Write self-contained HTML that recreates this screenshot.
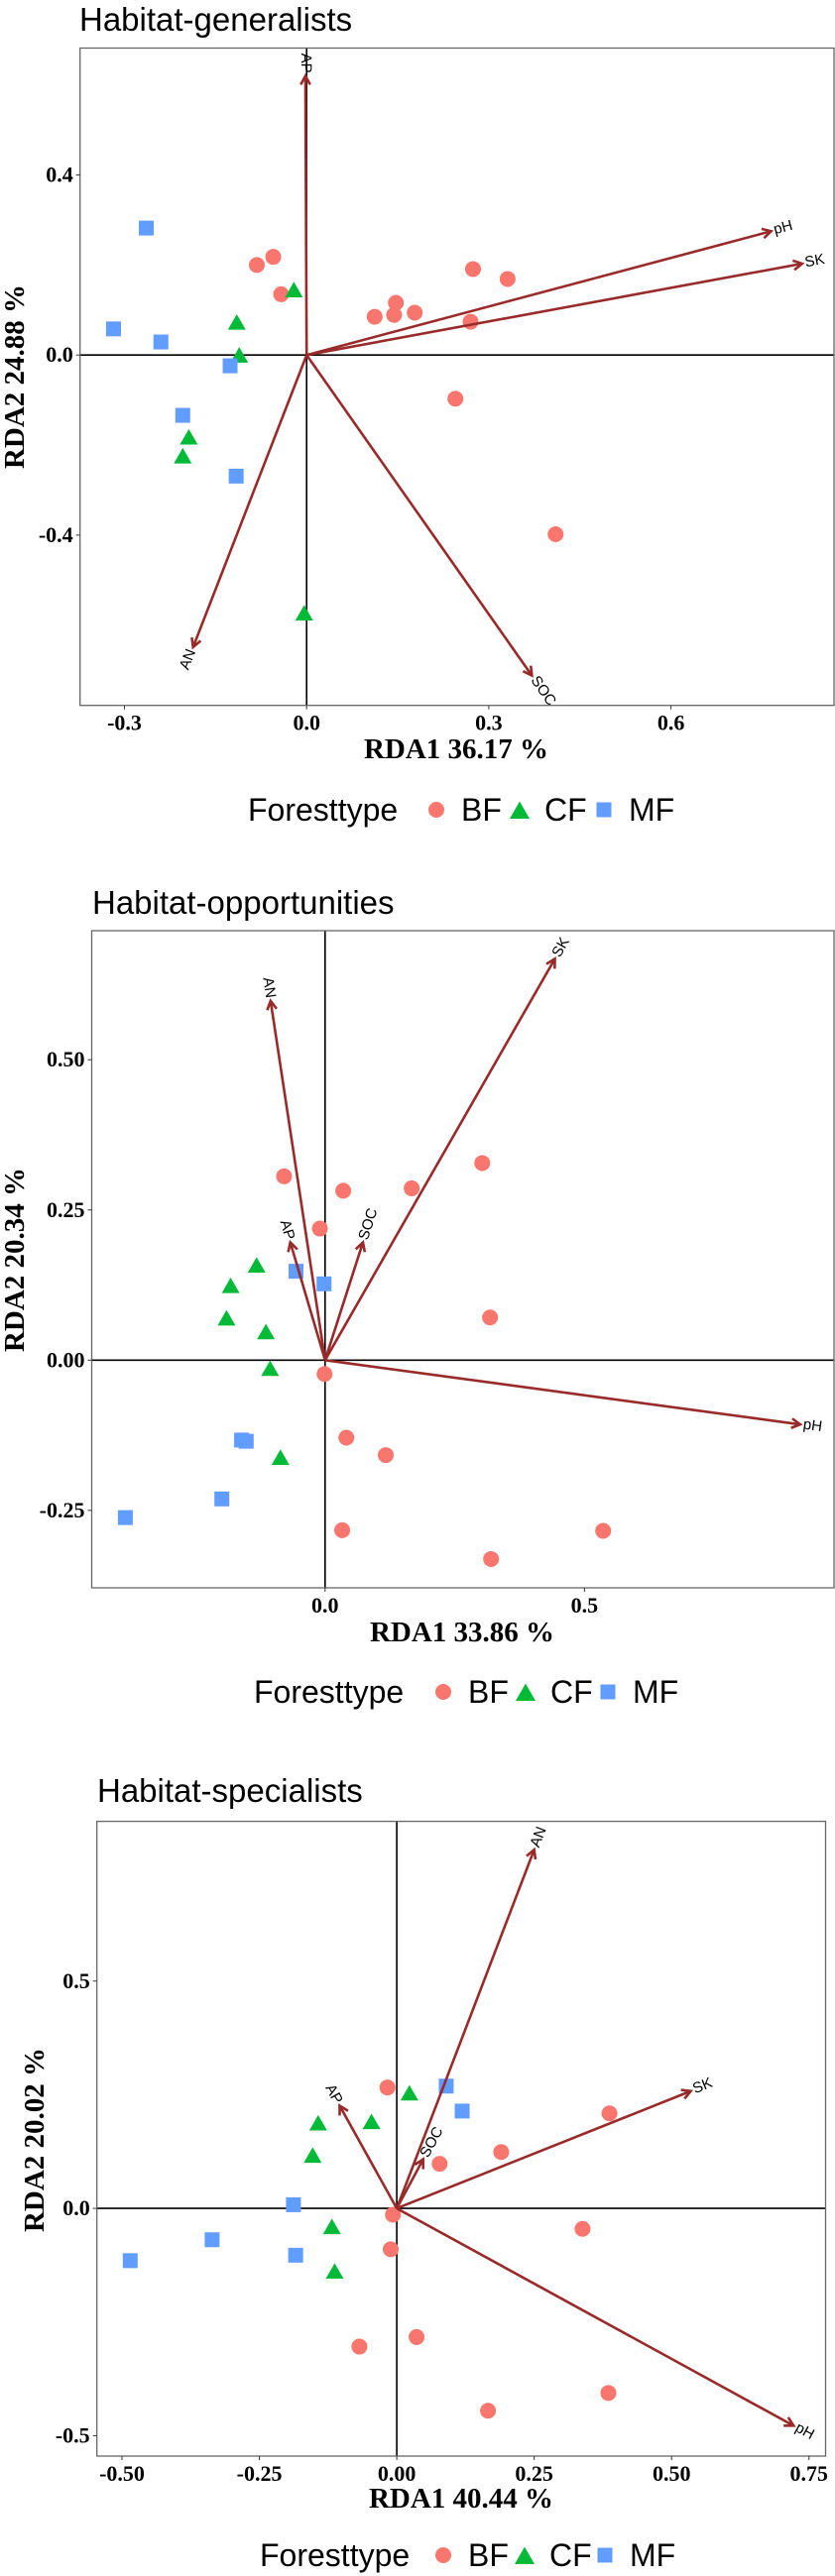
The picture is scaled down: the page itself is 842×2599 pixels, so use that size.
<!DOCTYPE html>
<html><head><meta charset="utf-8"><style>
html,body{margin:0;padding:0;background:#fff;}
svg{display:block;}
</style></head>
<body>
<svg id="fig" width="842" height="2599" viewBox="0 0 842 2599" xmlns="http://www.w3.org/2000/svg"></svg>
<script>
// ---- Panel 1: Habitat-generalists ----
const p1BFx = [-0.082,-0.055,-0.042,0.112,0.144,0.147,0.178,0.274,0.331,0.270,0.245,0.410];
const p1BFy = [0.200,0.218,0.135,0.085,0.089,0.116,0.094,0.191,0.169,0.074,-0.097,-0.398];
const p1CFx = [-0.021,-0.115,-0.111,-0.194,-0.204,-0.004];
const p1CFy = [0.142,0.070,-0.003,-0.185,-0.227,-0.576];
const p1MFx = [-0.264,-0.318,-0.240,-0.126,-0.204,-0.116];
const p1MFy = [0.282,0.058,0.029,-0.024,-0.134,-0.269];
const p1Vars = ["AP","pH","SK","AN","SOC"];
const p1VarX = [-0.002,0.765,0.816,-0.187,0.371];
const p1VarY = [0.620,0.275,0.203,-0.649,-0.712];
const p1XTicks = [-0.3,0.0,0.3,0.6];
const p1XTickLabels = ["-0.3","0.0","0.3","0.6"];
const p1YTicks = [0.4,0.0,-0.4];
const p1YTickLabels = ["0.4","0.0","-0.4"];

// ---- Panel 2: Habitat-opportunities ----
const p2BFx = [-0.079,0.035,-0.010,0.167,0.303,0.318,-0.001,0.041,0.117,0.033,0.320,0.536];
const p2BFy = [0.306,0.282,0.219,0.286,0.328,0.071,-0.023,-0.129,-0.158,-0.283,-0.331,-0.284];
const p2CFx = [-0.132,-0.182,-0.190,-0.114,-0.106,-0.086];
const p2CFy = [0.156,0.122,0.068,0.045,-0.016,-0.164];
const p2MFx = [-0.056,-0.002,-0.161,-0.152,-0.199,-0.385];
const p2MFy = [0.148,0.127,-0.133,-0.135,-0.231,-0.262];
const p2Vars = ["AN","SK","AP","SOC","pH"];
const p2VarX = [-0.105,0.443,-0.067,0.073,0.916];
const p2VarY = [0.598,0.668,0.196,0.196,-0.107];
const p2XTicks = [0.0,0.5];
const p2XTickLabels = ["0.0","0.5"];
const p2YTicks = [0.50,0.25,0.00,-0.25];
const p2YTickLabels = ["0.50","0.25","0.00","-0.25"];

// ---- Panel 3: Habitat-specialists ----
const p3BFx = [-0.017,0.190,0.078,0.387,0.338,-0.007,-0.011,-0.068,0.036,0.166,0.385];
const p3BFy = [0.266,0.124,0.098,0.209,-0.045,-0.014,-0.090,-0.304,-0.283,-0.445,-0.406];
const p3CFx = [0.023,-0.143,-0.046,-0.153,-0.118,-0.113];
const p3CFy = [0.251,0.185,0.188,0.114,-0.043,-0.141];
const p3MFx = [0.090,0.119,-0.188,-0.336,-0.184,-0.485];
const p3MFy = [0.269,0.214,0.008,-0.069,-0.103,-0.115];
const p3Vars = ["AN","AP","SOC","SK","pH"];
const p3VarX = [0.250,-0.104,0.048,0.535,0.722];
const p3VarY = [0.789,0.226,0.108,0.258,-0.478];
const p3XTicks = [-0.50,-0.25,0.00,0.25,0.50,0.75];
const p3XTickLabels = ["-0.50","-0.25","0.00","0.25","0.50","0.75"];
const p3YTicks = [0.5,0.0,-0.5];
const p3YTickLabels = ["0.5","0.0","-0.5"];

const NS = "http://www.w3.org/2000/svg";
const svg = document.getElementById('fig');
const COL = {BF:"#F8766D", CF:"#00BA38", MF:"#619CFF"};
const ARROW = "#992a2a";

function mk(tag, attrs, parent){
  const e = document.createElementNS(NS, tag);
  for (const k in attrs) e.setAttribute(k, attrs[k]);
  (parent||svg).appendChild(e);
  return e;
}
function circleMark(g, cx, cy, r, fill){
  const c = mk('circle',{cx:cx,cy:cy,r:r,fill:fill},g);
  return c;
}
function triMark(g, cx, cy, s, fill){
  const h = s*0.87;
  return mk('polygon',{points:`${cx},${cy-h*0.6} ${cx-s/2},${cy+h*0.4} ${cx+s/2},${cy+h*0.4}`,fill:fill},g);
}
function sqMark(g, cx, cy, s, fill){
  return mk('rect',{x:cx-s/2,y:cy-s/2,width:s,height:s,fill:fill},g);
}

function legend(g, L){
  const lg = mk('g',{},g);
  
  
  const t = mk('text',{x:L.x,y:L.y,'font-family':'"Liberation Sans",sans-serif','font-size':32,fill:'#000'},lg);
  t.textContent = 'Foresttype';
  
  
  const entries = [["BF",L.cx[0]],["CF",L.cx[1]],["MF",L.cx[2]]];
  entries.forEach(([k,cx],i)=>{
    const eg = mk('g',{},lg);
    
    
    const my = L.y-11;
    if(i===0) circleMark(eg,cx,my,8,COL[k]);
    if(i===1) triMark(eg,cx,my+2,20,COL[k]);
    if(i===2) sqMark(eg,cx,my,15,COL[k]);
    const tt = mk('text',{x:cx+25,y:L.y,'font-family':'"Liberation Sans",sans-serif','font-size':32,fill:'#000'},eg);
    tt.textContent = k;
  });
}

function panel(P){
  const g = mk('g',{});
  
  
  const sx = v => P.x0 + v*P.ux;
  const sy = v => P.y0 - v*P.uy;

  const title = mk('text',{x:P.titleX,y:P.titleY,'font-family':'"Liberation Sans",sans-serif','font-size':33,fill:'#000'},g);
  title.textContent = P.title;
  
  

  // clip
  const cid = 'clip'+P.id;
  const cp = mk('clipPath',{id:cid},g);
  mk('rect',{x:P.L,y:P.T,width:P.R-P.L,height:P.B-P.T},cp);

  const plot = mk('g',{'clip-path':`url(#${cid})`},g);
  
  

  // zero lines
  const zh = mk('line',{x1:P.L,x2:P.R,y1:sy(0),y2:sy(0),stroke:'#000','stroke-width':1.6},plot);
  
  
  const zv = mk('line',{x1:sx(0),x2:sx(0),y1:P.T,y2:P.B,stroke:'#000','stroke-width':1.6},plot);
  
  

  // points
  const pts = mk('g',{},plot);
  
  
  P.bfx.forEach((v,i)=>{
    const c = circleMark(pts,sx(v),sy(P.bfy[i]),8,COL.BF);
    
    
  });
  P.cfx.forEach((v,i)=>{
    const c = triMark(pts,sx(v),sy(P.cfy[i]),18,COL.CF);
    
    
  });
  P.mfx.forEach((v,i)=>{
    const c = sqMark(pts,sx(v),sy(P.mfy[i]),15,COL.MF);
    
    
  });

  // arrows
  P.vars.forEach((name,i)=>{
    const ag = mk('g',{},plot);
    
    
    const x1 = sx(0), y1 = sy(0), x2 = sx(P.vx[i]), y2 = sy(P.vy[i]);
    mk('line',{x1:x1,y1:y1,x2:x2,y2:y2,stroke:ARROW,'stroke-width':2.6},ag);
    const ang = Math.atan2(y2-y1,x2-x1);
    const hl = 10, ha = 0.5;
    const pA = [x2-hl*Math.cos(ang-ha), y2-hl*Math.sin(ang-ha)];
    const pB = [x2-hl*Math.cos(ang+ha), y2-hl*Math.sin(ang+ha)];
    mk('polyline',{points:`${pA[0]},${pA[1]} ${x2},${y2} ${pB[0]},${pB[1]}`,fill:'none',stroke:ARROW,'stroke-width':2.6},ag);
    let deg = ang*180/Math.PI;
    let anchor = 'start';
    if (deg > 90 || deg < -90){ deg += 180; anchor = 'end'; }
    const lx = x2 + 3*Math.cos(ang), ly = y2 + 3*Math.sin(ang);
    const t = mk('text',{x:lx,y:ly,'font-family':'"Liberation Sans",sans-serif','font-size':15,fill:'#000','text-anchor':anchor,'dominant-baseline':'middle',transform:`rotate(${deg} ${lx} ${ly})`},ag);
    t.textContent = name;
  });

  // frame
  const fr = mk('rect',{x:P.L,y:P.T,width:P.R-P.L,height:P.B-P.T,fill:'none',stroke:'#666','stroke-width':1.3},g);
  
  

  // x ticks
  const xa = mk('g',{},g);
  
  
  P.xt.forEach((v,i)=>{
    const x = sx(v);
    mk('line',{x1:x,x2:x,y1:P.B,y2:P.B+4,stroke:'#333','stroke-width':1},xa);
    const t = mk('text',{x:x,y:P.B+25,'text-anchor':'middle','font-family':'"Liberation Serif",serif','font-weight':'bold','font-size':22,fill:'#000'},xa);
    t.textContent = P.xtl[i];
  });
  const xt = mk('text',{x:P.xTitleX,y:P.xTitleY,'text-anchor':'middle','font-family':'"Liberation Serif",serif','font-weight':'bold','font-size':29,fill:'#000'},g);
  xt.textContent = P.xTitle;
  
  

  // y ticks
  const ya = mk('g',{},g);
  
  
  P.yt.forEach((v,i)=>{
    const y = sy(v);
    mk('line',{x1:P.L-4,x2:P.L,y1:y,y2:y,stroke:'#333','stroke-width':1},ya);
    const t = mk('text',{x:P.L-7,y:y+7,'text-anchor':'end','font-family':'"Liberation Serif",serif','font-weight':'bold','font-size':22,fill:'#000'},ya);
    t.textContent = P.ytl[i];
  });
  const yt = mk('text',{x:P.yTitleX,y:P.yTitleY,'text-anchor':'middle','font-family':'"Liberation Serif",serif','font-weight':'bold','font-size':29,fill:'#000',transform:`rotate(-90 ${P.yTitleX} ${P.yTitleY})`},g);
  yt.textContent = P.yTitle;
  
  

  legend(g, P.leg);
}

panel({id:1,name:'panel-habitat-generalists',title:'Habitat-generalists',titleX:80,titleY:31,
  L:80.7,R:841,T:48.5,B:711.7,x0:309.2,ux:612.3,y0:358.2,uy:454.2,
  bfx:p1BFx,bfy:p1BFy,cfx:p1CFx,cfy:p1CFy,mfx:p1MFx,mfy:p1MFy,
  vars:p1Vars,vx:p1VarX,vy:p1VarY,xt:p1XTicks,xtl:p1XTickLabels,yt:p1YTicks,ytl:p1YTickLabels,
  xTitle:'RDA1 36.17 %',xTitleX:460,xTitleY:765,yTitle:'RDA2 24.88 %',yTitleX:24,yTitleY:380,
  leg:{x:250,y:828,cx:[440,524,609]}});

panel({id:2,name:'panel-habitat-opportunities',title:'Habitat-opportunities',titleX:93,titleY:922,
  L:92.5,R:841,T:939,B:1602,x0:327.8,ux:523.1,y0:1372.3,uy:606.2,
  bfx:p2BFx,bfy:p2BFy,cfx:p2CFx,cfy:p2CFy,mfx:p2MFx,mfy:p2MFy,
  vars:p2Vars,vx:p2VarX,vy:p2VarY,xt:p2XTicks,xtl:p2XTickLabels,yt:p2YTicks,ytl:p2YTickLabels,
  xTitle:'RDA1 33.86 %',xTitleX:466,xTitleY:1656,yTitle:'RDA2 20.34 %',yTitleX:24,yTitleY:1271,
  leg:{x:256,y:1718,cx:[447,530,613]}});

panel({id:3,name:'panel-habitat-specialists',title:'Habitat-specialists',titleX:98,titleY:1818,
  L:97.7,R:832.5,T:1837.6,B:2478,x0:400.1,ux:554.2,y0:2228.1,uy:458.7,
  bfx:p3BFx,bfy:p3BFy,cfx:p3CFx,cfy:p3CFy,mfx:p3MFx,mfy:p3MFy,
  vars:p3Vars,vx:p3VarX,vy:p3VarY,xt:p3XTicks,xtl:p3XTickLabels,yt:p3YTicks,ytl:p3YTickLabels,
  xTitle:'RDA1 40.44 %',xTitleX:465,xTitleY:2530,yTitle:'RDA2 20.02 %',yTitleX:44,yTitleY:2159,
  leg:{x:262,y:2589,cx:[447,529,610]}});
</script>
</body></html>
